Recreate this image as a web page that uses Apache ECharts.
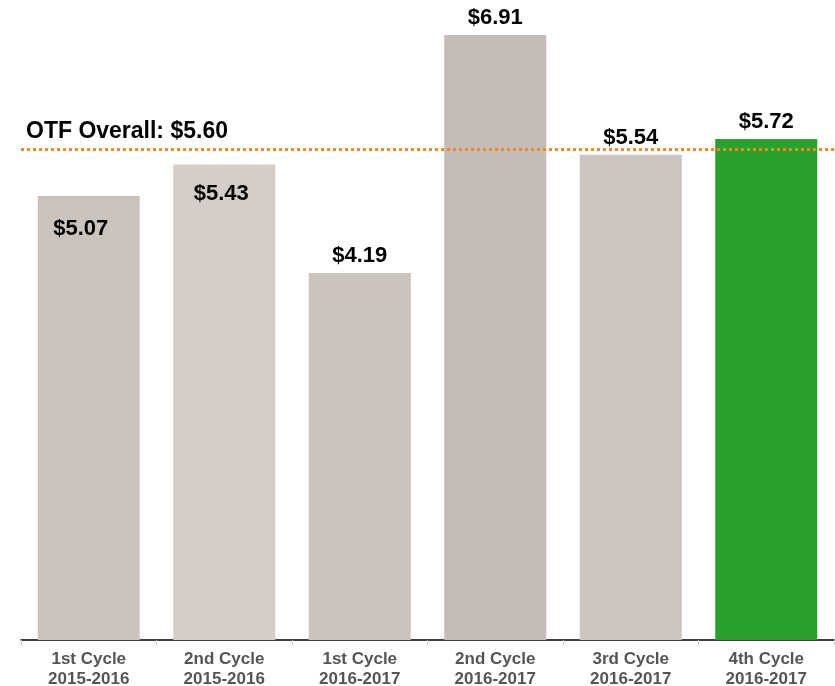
<!DOCTYPE html>
<html>
<head>
<meta charset="utf-8">
<script src="https://cdn.jsdelivr.net/npm/echarts@6/dist/echarts.min.js"></script>
<style>
html, body { margin: 0; padding: 0; background: #fff; }
#chart { width: 835px; height: 686px; }
</style>
</head>
<body>
<div id="chart"></div>
<script>
var categories = ['1st Cycle\n2015-2016', '2nd Cycle\n2015-2016', '1st Cycle\n2016-2017',
	'2nd Cycle\n2016-2017', '3rd Cycle\n2016-2017', '4th Cycle\n2016-2017'];
var costs = [5.07, 5.43, 4.19, 6.91, 5.54, 5.72];
var overall = 5.60;

var barColors = ['#cbc3be', '#d5cdca', '#cbc3be', '#c4bcb8', '#cdc5c0', '#2ca02c'];

var myChart = echarts.init(document.getElementById('chart'));

var fmt = function(v) { return '$' + v.toFixed(2); };

var barData = costs.map(function(v, i) {
	var item = { value: v, itemStyle: { color: barColors[i] } };
	if (i === 0) {
		item.label = { position: 'insideTop', distance: 22, offset: [-8, 0] };
	} else if (i === 1) {
		item.label = { position: 'insideTop', distance: 18, offset: [-3, 0] };
	}
	return item;
});

var option = {
	animation: false,
	grid: { left: 21, right: 1, top: 27, bottom: 46, containLabel: false, outerBoundsMode: 'none' },
	xAxis: {
		type: 'category',
		data: categories,
		axisLine: { lineStyle: { color: '#000', width: 1.5 } },
		axisTick: { show: true, length: 5, lineStyle: { color: '#ccc' } },
		axisLabel: {
			color: '#555',
			fontFamily: 'Liberation Sans',
			fontWeight: 'bold',
			fontSize: 17,
			lineHeight: 20,
			margin: 9
		}
	},
	yAxis: {
		type: 'value',
		min: 0,
		max: 7,
		show: false,
		splitLine: { show: false }
	},
	series: [{
		type: 'bar',
		data: barData,
		barWidth: 102,
		label: {
			show: true,
			position: 'top',
			distance: 6,
			color: '#000',
			fontFamily: 'Liberation Sans',
			fontWeight: 'bold',
			fontSize: 22,
			formatter: function(p) { return fmt(p.value); }
		},
		markLine: {
			silent: true,
			symbol: ['none', 'none'],
			lineStyle: { color: '#f58b1f', width: 3, type: [3, 3] },
			label: {
				show: true,
				position: 'insideStartTop',
				distance: [5, 6],
				color: '#000',
				fontFamily: 'Liberation Sans',
				fontWeight: 'bold',
				fontSize: 23,
				formatter: 'OTF Overall: ' + fmt(overall)
			},
			data: [{ yAxis: overall }]
		}
	}]
};
myChart.setOption(option);
</script>
</body>
</html>
